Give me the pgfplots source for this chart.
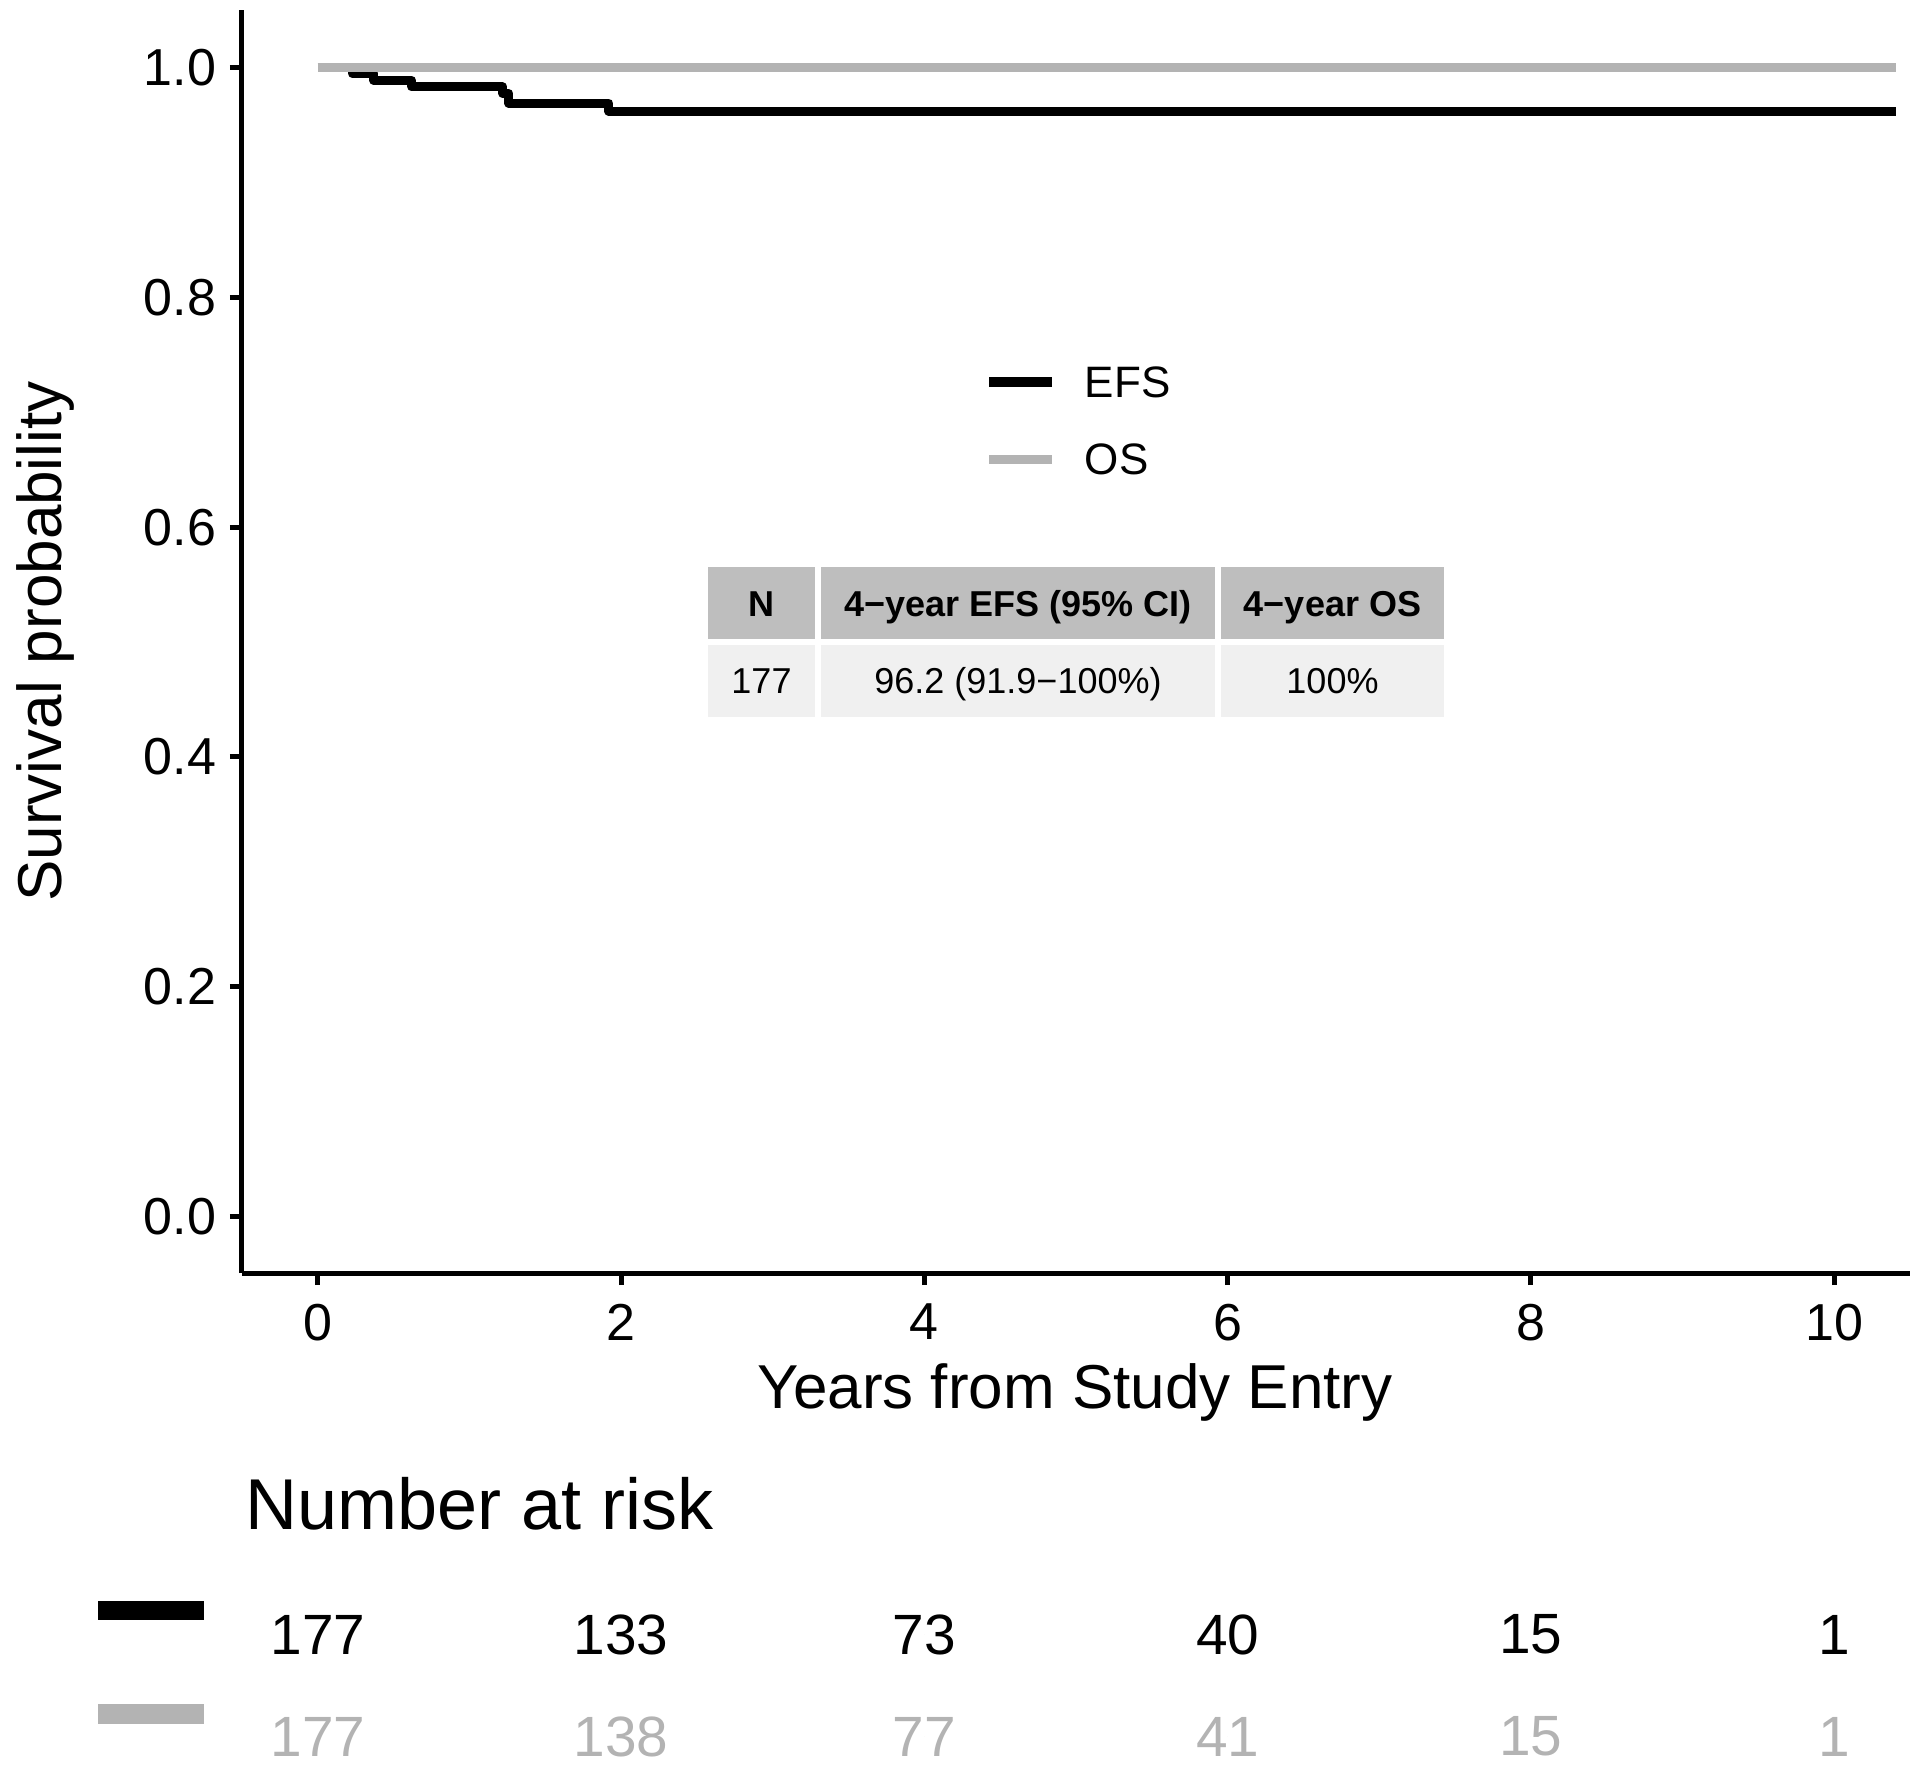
\documentclass[border=0pt]{standalone}
\usepackage{pgfplots}
\pgfplotsset{compat=1.18}
\usepackage{fontspec}
\setmainfont{Liberation Sans}
\definecolor{osgray}{HTML}{B3B3B3}
\definecolor{hdrgray}{HTML}{BEBEBE}
\definecolor{bodygray}{HTML}{F0F0F0}
\newcommand{\fs}[1]{\fontsize{#1}{1.2\dimexpr#1\relax}\selectfont}
\begin{document}
\begin{tikzpicture}
\begin{axis}[
  at={(0,0)}, anchor=south west,
  scale only axis, width=417bp, height=315.75bp,
  xmin=-0.5, xmax=10.5, ymin=-0.049, ymax=1.05,
  axis lines=left, axis line style={-, line width=1.25bp, black},
  xtick={0,2,4,6,8,10}, ytick={0,0.2,0.4,0.6,0.8,1.0},
  tick align=outside, major tick length=3bp,
  every tick/.style={black, line width=1.25bp},
  /pgf/number format/assume math mode=true,
  yticklabel style={/pgf/number format/.cd, fixed, fixed zerofill, precision=1, /tikz/.cd,
     font=\fs{13bp}, inner sep=0pt, anchor=east, xshift=-3.25bp},
  xticklabel style={font=\fs{13bp}, inner sep=0pt, anchor=north, yshift=-4.5bp},
  xlabel={Years from Study Entry},
  xlabel style={at={(axis description cs:0.4994,-0.1069)}, anchor=base, font=\fs{15.5bp}, inner sep=0pt},
  ylabel={Survival probability},
  ylabel style={at={(axis description cs:-0.1085,0.5)}, anchor=base, rotate=0, font=\fs{15.5bp}, inner sep=0pt},
]
\addplot[const plot, black, line width=2.25bp, line join=round] coordinates {
(0,1) (0.23,0.9944) (0.37,0.9887) (0.62,0.9830) (1.22,0.9774) (1.26,0.9690) (1.92,0.9620) (10.41,0.9620)
};
\addplot[const plot, osgray, line width=2.25bp, line join=round] coordinates {
(0,1) (10.41,1)
};
\end{axis}

% legend
\draw[black, line width=2.5bp] (186.75bp,222.75bp) -- (202.5bp,222.75bp);
\draw[osgray, line width=2.25bp] (186.75bp,203.25bp) -- (202.5bp,203.25bp);
\node[anchor=base west, inner sep=0pt, font=\fs{11bp}] at (210.5bp,218.75bp) {EFS};
\node[anchor=base west, inner sep=0pt, font=\fs{11bp}] at (210.5bp,199.5bp) {OS};

% inset table
\fill[hdrgray] (116.5bp,158.5bp) rectangle (143.25bp,176.5bp);
\fill[hdrgray] (144.75bp,158.5bp) rectangle (243.25bp,176.5bp);
\fill[hdrgray] (244.75bp,158.5bp) rectangle (300.5bp,176.5bp);
\fill[bodygray] (116.5bp,139bp) rectangle (143.25bp,157bp);
\fill[bodygray] (144.75bp,139bp) rectangle (243.25bp,157bp);
\fill[bodygray] (244.75bp,139bp) rectangle (300.5bp,157bp);
\node[anchor=base, inner sep=0pt, font=\bfseries\fs{9bp}] at (129.875bp,164bp) {N};
\node[anchor=base, inner sep=0pt, font=\bfseries\fs{9bp}] at (194bp,164bp) {4−year EFS (95\% CI)};
\node[anchor=base, inner sep=0pt, font=\bfseries\fs{9bp}] at (272.625bp,164bp) {4−year OS};
\node[anchor=base, inner sep=0pt, font=\fs{9bp}] at (129.875bp,144.75bp) {177};
\node[anchor=base, inner sep=0pt, font=\fs{9bp}] at (194bp,144.75bp) {96.2 (91.9−100\%)};
\node[anchor=base, inner sep=0pt, font=\fs{9bp}] at (272.625bp,144.75bp) {100\%};

% risk table
\node[anchor=base west, inner sep=0pt, font=\fs{18bp}] at (0.75bp,-64bp) {Number at risk};
\fill[black] (-36bp,-82bp) rectangle (-9.5bp,-86.75bp);
\fill[osgray] (-36bp,-107.75bp) rectangle (-9.5bp,-112.75bp);

\begin{axis}[
  at={(0,-115.9bp)}, anchor=south west,
  scale only axis, width=417bp, height=25.5bp,
  xmin=-0.5, xmax=10.5, ymin=0, ymax=1,
  hide axis, clip=false,
]
\addplot[only marks, mark=*, mark size=0pt, draw=none, fill=none,
  nodes near coords, point meta=explicit symbolic, nodes near coords align={center},
  every node near coord/.append style={font=\fs{14.2bp}, inner sep=0pt, text=black}]
  table[x=x, y=y, meta=n] {
x y n
0 1 177
2 1 133
4 1 73
6 1 40
8 1 15
10 1 1
};
\addplot[only marks, mark=*, mark size=0pt, draw=none, fill=none,
  nodes near coords, point meta=explicit symbolic, nodes near coords align={center},
  every node near coord/.append style={font=\fs{14.2bp}, inner sep=0pt, text=osgray}]
  table[x=x, y=y, meta=n] {
x y n
0 0 177
2 0 138
4 0 77
6 0 41
8 0 15
10 0 1
};
\end{axis}

\pgfresetboundingbox
\path[use as bounding box] (-60.5bp,-125.5bp) rectangle (419.5bp,318.25bp);
\end{tikzpicture}
\end{document}
